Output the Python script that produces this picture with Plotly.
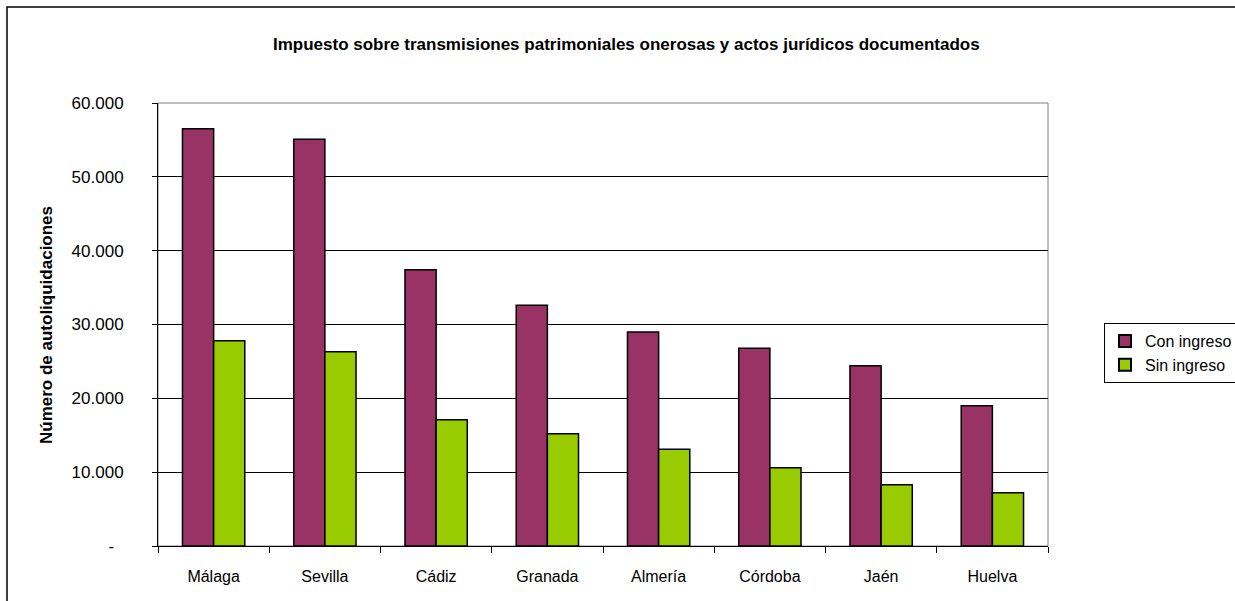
import plotly.graph_objects as go

provincias = ["Málaga", "Sevilla", "Cádiz", "Granada", "Almería", "Córdoba", "Jaén", "Huelva"]
con_ingreso = [56500, 55100, 37400, 32600, 29000, 26800, 24400, 19000]
sin_ingreso = [27800, 26300, 17100, 15200, 13100, 10600, 8300, 7200]
y_tickvals = [0, 10000, 20000, 30000, 40000, 50000, 60000]
y_ticktext = ["-\u00a0\u00a0", "10.000", "20.000", "30.000", "40.000", "50.000", "60.000"]

FONT = "Liberation Sans, Arial, sans-serif"
L, R, T, B = 158, 1048, 103, 546
W, H = 1235, 601

fig = go.Figure()
fig.add_trace(go.Bar(name="Con ingreso", x=provincias, y=con_ingreso,
                     marker=dict(color="#993366", line=dict(color="#000000", width=1.5))))
fig.add_trace(go.Bar(name="Sin ingreso", x=provincias, y=sin_ingreso,
                     marker=dict(color="#99CC00", line=dict(color="#000000", width=1.5))))

pw, ph = R - L, B - T
def px(x):
    return (x - L) / pw
def py(y):
    return (B - y) / ph

fig.update_layout(
    width=W, height=H,
    margin=dict(l=L, r=W - R, t=T, b=H - B, autoexpand=False),
    paper_bgcolor="white", plot_bgcolor="white",
    font=dict(family=FONT, size=16, color="#000000"),
    barmode="group", bargap=0.44, bargroupgap=0,
    showlegend=True,
    legend=dict(x=px(1104), y=py(323), xanchor="left", yanchor="top",
                bordercolor="#000000", borderwidth=1, bgcolor="white",
                font=dict(size=16), itemsizing="constant", itemwidth=30,
                tracegroupgap=0),
    xaxis=dict(showline=True, linecolor="#000000", linewidth=1,
               ticks="outside", ticklen=6, tickcolor="#000000",
               tickson="boundaries", showgrid=False, ticklabelstandoff=16,
               tickfont=dict(size=16)),
    yaxis=dict(range=[0, 60000], tickvals=y_tickvals, ticktext=y_ticktext,
               showline=True, linecolor="#000000", linewidth=1,
               ticks="outside", ticklen=5, tickcolor="#000000",
               showgrid=True, gridcolor="#000000", gridwidth=1,
               zeroline=False, ticklabelstandoff=25, tickfont=dict(size=17)),
    annotations=[
        dict(text="<b>Impuesto sobre transmisiones patrimoniales onerosas y actos jurídicos documentados</b>",
             x=px(626), y=py(45), xref="paper", yref="paper",
             xanchor="center", yanchor="middle", showarrow=False,
             font=dict(size=17)),
        dict(text="<b>Número de autoliquidaciones</b>", textangle=-90,
             x=px(46), y=py(325), xref="paper", yref="paper",
             xanchor="center", yanchor="middle", showarrow=False,
             font=dict(size=17)),
    ],
    shapes=[
        dict(type="rect", xref="paper", yref="paper", x0=0, x1=1, y0=0, y1=1,
             line=dict(color="#808080", width=1), layer="below"),
        dict(type="rect", xref="paper", yref="paper", x0=px(7), x1=px(1245), y0=py(7), y1=py(612),
             line=dict(color="#000000", width=1.5), layer="above"),
    ],
)
fig.update_yaxes(automargin=False)
fig.update_xaxes(automargin=False)
fig.write_html("out.html", config={"displayModeBar": False},
               post_script="document.body.style.margin='0';document.body.style.overflow='hidden';")
